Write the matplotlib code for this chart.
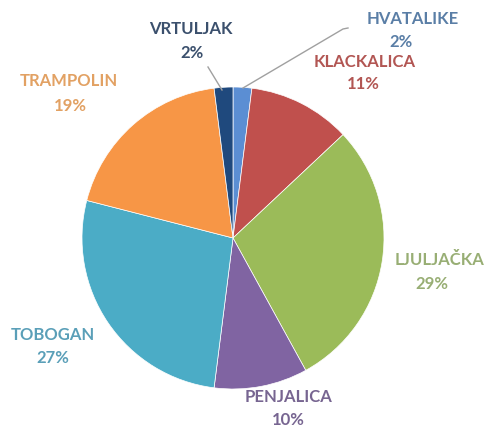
import matplotlib.pyplot as plt

# slice data, clockwise from the top
labels = ['HVATALIKE', 'KLACKALICA', 'LJULJAČKA', 'PENJALICA', 'TOBOGAN', 'TRAMPOLIN', 'VRTULJAK']
values = [2, 11, 29, 10, 27, 19, 2]
pct_text = ['2%', '11%', '29%', '10%', '27%', '19%', '2%']

wedge_colors = ['#5b8ed3', '#c0504d', '#9bbb59', '#8064a2', '#4bacc6', '#f79646', '#1f497d']
text_colors = ['#5a7ea6', '#b25653', '#98ae74', '#776591', '#5a9fb8', '#e2a163', '#3b506d']

# label centres in pixels (x, y from top): name line, percent line
name_pos = [(413, 19), (365, 62), (439, 260), (288, 397), (53, 335), (69, 81), (191, 29)]
pct_pos = [(401, 42), (363, 84), (432, 284), (288, 420), (53, 358), (70, 106), (192, 53)]

W, H = 486, 426
fig = plt.figure(figsize=(W / 100, H / 100), dpi=100)
ax = fig.add_axes([0, 0, 1, 1])

ax.pie(values, colors=wedge_colors, startangle=90, counterclock=False,
       center=(233, H - 238), radius=151, frame=True,
       wedgeprops={'edgecolor': 'white', 'linewidth': 0.5})
ax.set_xlim(0, W)
ax.set_ylim(0, H)
ax.set_aspect('equal')
ax.axis('off')

# leader lines for the two small slices
ax.plot([208, 222], [H - 67, H - 90], color='#a0a0a0', lw=1)
ax.plot([348, 343, 243], [H - 28, H - 29, H - 88], color='#a0a0a0', lw=1)

for i in range(len(labels)):
    ax.text(name_pos[i][0], H - name_pos[i][1], labels[i], color=text_colors[i],
            ha='center', va='center', fontsize=12, fontweight='bold', family='Lato')
    ax.text(pct_pos[i][0], H - pct_pos[i][1], pct_text[i], color=text_colors[i],
            ha='center', va='center', fontsize=12, fontweight='bold', family='Lato')

fig.savefig('out.png', dpi=100)
